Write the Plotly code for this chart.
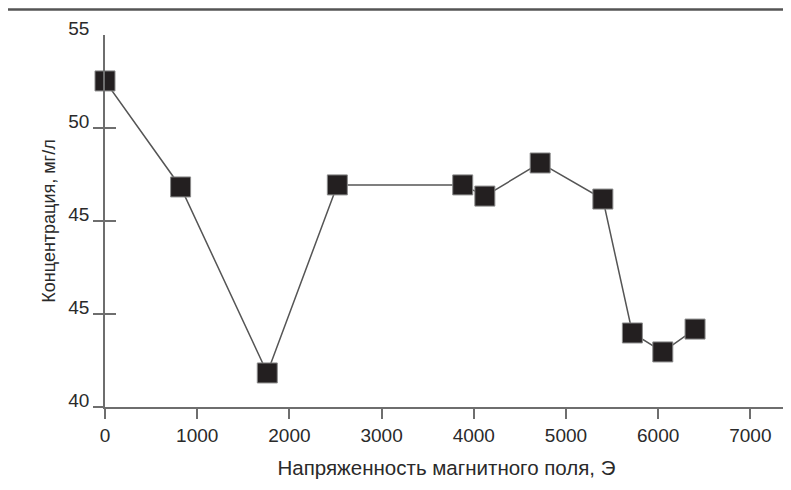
import plotly.graph_objects as go

# Data
field_oe = [0, 820, 1760, 2520, 3880, 4120, 4720, 5400, 5720, 6050, 6400]
concentration = [52.53, 46.83, 36.83, 46.94, 46.94, 46.34, 48.12, 46.18, 38.98, 37.96, 39.19]

x_tick_vals = [0, 1000, 2000, 3000, 4000, 5000, 6000, 7000]
x_tick_text = ["0", "1000", "2000", "3000", "4000", "5000", "6000", "7000"]
y_tick_vals = [35, 40, 45, 50, 55]
y_tick_text = ["40", "45", "45", "50", "55"]
y_mark_vals = [35, 40, 45, 50]

x_title = "Напряженность магнитного поля, Э"
y_title = "Концентрация, мг/л"

FONT = "Liberation Sans, Arial, sans-serif"
TXT = "#2a2a2a"
AX = "#6e6e6e"
YR = [35, 55]
XR = [0, 7408]

fig = go.Figure()
fig.add_trace(go.Scatter(
    x=field_oe, y=concentration, mode="lines+markers",
    line=dict(color="#555555", width=1.5),
    marker=dict(symbol="square", size=20, color="#231f20",
                line=dict(color="#8a8a8a", width=1)),
    cliponaxis=False, showlegend=False, hoverinfo="x+y",
))
# helper traces so overlay axes are drawn
for ax in ("y2", "y3"):
    fig.add_trace(go.Scatter(x=[None], y=[None], yaxis=ax, showlegend=False,
                             hoverinfo="skip"))

fig.update_layout(
    width=783, height=482,
    margin=dict(l=97, r=3, t=27, b=83),
    paper_bgcolor="white", plot_bgcolor="white",
    font=dict(family=FONT, size=19, color=TXT),
    xaxis=dict(
        range=XR, tickvals=x_tick_vals, ticktext=x_tick_text,
        showgrid=False, zeroline=False, showline=True, linecolor=AX, linewidth=1.5,
        ticks="outside", ticklen=10, tickwidth=1.5, tickcolor=AX,
        title=dict(text=x_title, standoff=16, font=dict(size=20.5)),
        tickfont=dict(size=19),
    ),
    yaxis=dict(
        range=YR, tickvals=y_tick_vals, ticktext=y_tick_text,
        showgrid=False, zeroline=False, showline=True, linecolor=AX, linewidth=1.5,
        ticks="", ticklabelstandoff=10, ticklabelshift=-7,
        title=dict(text=y_title, standoff=8, font=dict(size=18)),
        tickfont=dict(size=19),
    ),
    yaxis2=dict(
        range=YR, overlaying="y", tickvals=y_mark_vals, showticklabels=False,
        showgrid=False, zeroline=False, showline=False,
        ticks="outside", ticklen=11, tickwidth=1.5, tickcolor=AX,
    ),
    yaxis3=dict(
        range=YR, overlaying="y", tickvals=y_mark_vals, showticklabels=False,
        showgrid=False, zeroline=False, showline=False,
        ticks="inside", ticklen=11, tickwidth=1.5, tickcolor=AX,
    ),
    shapes=[
        dict(type="line", xref="paper", yref="paper",
             x0=-0.1435, x1=-0.1435, y0=1.0685, y1=-0.25,
             line=dict(color="#555555", width=2)),
        dict(type="line", xref="paper", yref="paper",
             x0=-0.1435, x1=1.01, y0=1.0685, y1=1.0685,
             line=dict(color="#555555", width=2.5)),
    ],
)

fig.write_html("out.html")
